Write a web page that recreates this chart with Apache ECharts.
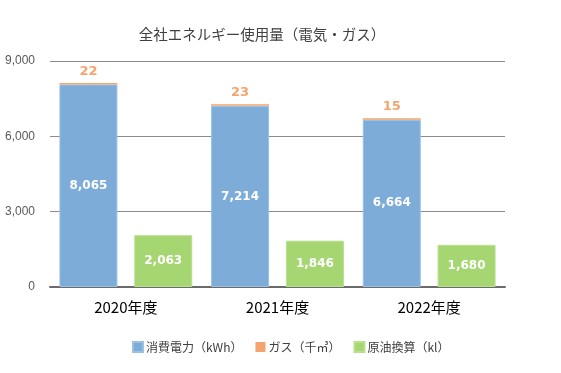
<!DOCTYPE html>
<html><head><meta charset="utf-8">
<script src="https://cdn.jsdelivr.net/npm/echarts@6/dist/echarts.min.js"></script>
<style>html,body{margin:0;padding:0;background:#fff}#c{width:561px;height:373px}</style>
</head><body><div id="c"></div>
<script>
const categories = ['2020年度', '2021年度', '2022年度'];
const electricity = [8065, 7214, 6664];
const gas = [22, 23, 15];
const crudeOil = [2063, 1846, 1680];
const seriesNames = ['消費電力（kWh）', 'ガス（千㎥）', '原油換算（kl）'];
const titleText = '全社エネルギー使用量（電気・ガス）';

const chart = echarts.init(document.getElementById('c'), null, {renderer: 'canvas'});
const cjk = '"Noto Sans CJK JP", "Noto Sans", sans-serif';
const numFont = '"DejaVu Sans", sans-serif';
chart.setOption({
  animation: false,
  backgroundColor: '#fff',
  title: {
    text: titleText, left: 257, top: 22, textAlign: 'center',
    textStyle: {fontFamily: cjk, fontSize: 14.5, fontWeight: 'normal', color: '#404040'}
  },
  legend: {
    data: seriesNames, left: 127, top: 336, itemWidth: 10, itemHeight: 10, itemGap: 13,
    icon: 'rect',
    textStyle: {fontFamily: cjk, fontSize: 12, color: '#404040', padding: [0, 0, 0, -2]}
  },
  grid: {left: 50, right: 56, top: 61, bottom: 86},
  xAxis: {
    type: 'category', data: categories,
    axisLine: {lineStyle: {color: '#6b6b6b', width: 2}},
    axisTick: {show: false},
    axisLabel: {fontFamily: cjk, fontSize: 15, color: '#000', margin: 13}
  },
  yAxis: {
    type: 'value', min: 0, max: 9000, interval: 3000,
    axisLine: {show: false}, axisTick: {show: false},
    splitLine: {lineStyle: {color: '#8c8c8c', width: 1}},
    axisLabel: {fontFamily: '"Liberation Sans", Arial, sans-serif', fontSize: 12, color: '#595959', margin: 15,
      formatter: v => v.toLocaleString('en-US')}
  },
  series: [
    {
      name: seriesNames[0], type: 'bar', stack: 'a', data: electricity,
      barWidth: 58, barGap: '29%',
      itemStyle: {color: '#7eacd9', borderColor: '#9cc0e4', borderWidth: 1},
      label: {show: true, position: 'inside', color: '#fff', fontFamily: numFont, fontWeight: 'bold', fontSize: 12,
        formatter: p => p.value.toLocaleString('en-US')}
    },
    {
      name: seriesNames[1], type: 'bar', stack: 'a', data: gas,
      barWidth: 58, barMinHeight: 1.5,
      itemStyle: {color: '#f4a46e'},
      label: {show: true, position: 'top', distance: 5, color: '#f4a46e', fontFamily: numFont, fontWeight: 'bold', fontSize: 13}
    },
    {
      name: seriesNames[2], type: 'bar', data: crudeOil,
      barWidth: 58, barGap: '29%',
      itemStyle: {color: '#a5d672', borderColor: '#b8e08e', borderWidth: 1},
      label: {show: true, position: 'inside', color: '#fff', fontFamily: numFont, fontWeight: 'bold', fontSize: 12,
        formatter: p => p.value.toLocaleString('en-US')}
    }
  ]
});
</script></body></html>
